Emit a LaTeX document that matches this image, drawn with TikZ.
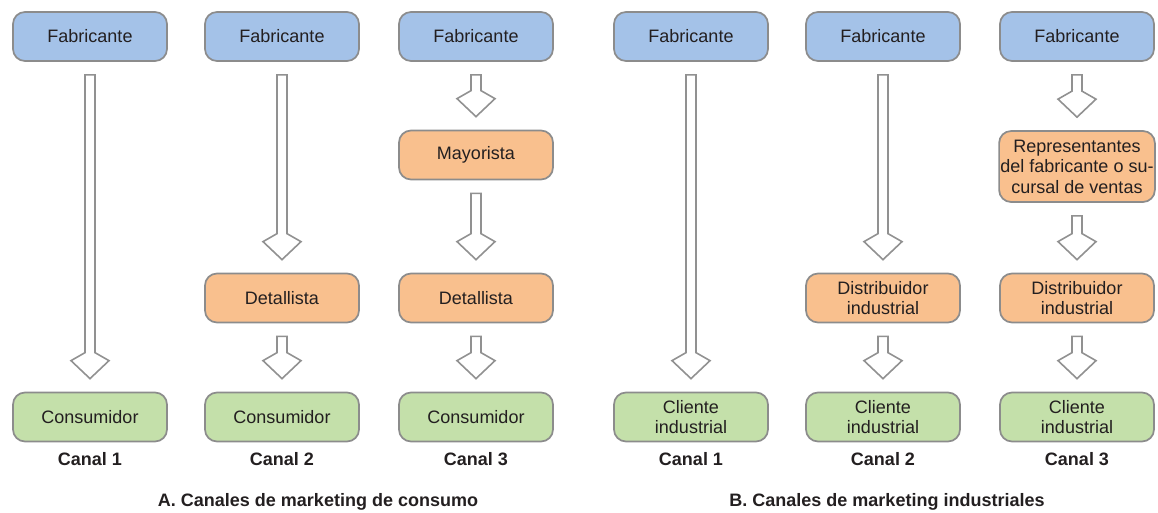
\documentclass[tikz,border=0pt]{standalone}
\usepackage{fontspec}
\setmainfont{Liberation Sans}
\usetikzlibrary{calc}
\definecolor{bfill}{RGB}{164,194,232}
\definecolor{ofill}{RGB}{249,192,142}
\definecolor{gfill}{RGB}{196,224,170}
\definecolor{bord}{RGB}{140,140,140}
\definecolor{txt}{RGB}{35,31,32}
\definecolor{arr}{RGB}{145,145,145}
\tikzset{
  box/.style={draw=bord, line width=1.3pt, rounded corners=9pt, minimum width=115.5pt, minimum height=36.75pt, align=center, text=txt, font=\fontsize{13.5}{15.3}\selectfont, inner sep=1pt},
  bluebox/.style={box, fill=bfill},
  orbox/.style={box, fill=ofill},
  grbox/.style={box, fill=gfill},
  canal/.style={text=txt, font=\fontsize{13.5}{15.3}\selectfont\bfseries},
  caption/.style={text=txt, font=\fontsize{13.5}{15.3}\selectfont\bfseries},
  hollow/.style={draw=arr, fill=white, line width=1.2pt, line join=miter}
}
\newcommand{\harrow}[2]{%
  \path (#1.south) ++(0,13) coordinate (s-#1);
  \path (#2.north) ++(0,-13) coordinate (e-#1);
  \draw[hollow] ($(s-#1)+(-5,0)$) -- ($(s-#1)+(5,0)$) -- ($(e-#1)+(5,-26)$) -- ($(e-#1)+(19,-18)$) -- (e-#1) -- ($(e-#1)+(-19,-18)$) -- ($(e-#1)+(-5,-26)$) -- cycle;}
\begin{document}
\begin{tikzpicture}[x=0.75pt, y=-0.75pt]
\useasboundingbox (0,0) rectangle (1158,512);
% A
\node[bluebox] (f1) at (90,36.5) {Fabricante};
\node[bluebox] (f2) at (282,36.5) {Fabricante};
\node[bluebox] (f3) at (476,36.5) {Fabricante};
\node[orbox] (m3) at (476,155) {Mayorista};
\node[orbox] (d2) at (282,298) {Detallista};
\node[orbox] (d3) at (476,298) {Detallista};
\node[grbox] (c1) at (90,417) {Consumidor};
\node[grbox] (c2) at (282,417) {Consumidor};
\node[grbox] (c3) at (476,417) {Consumidor};
% B
\node[bluebox] (f4) at (691,36.5) {Fabricante};
\node[bluebox] (f5) at (883,36.5) {Fabricante};
\node[bluebox] (f6) at (1077,36.5) {Fabricante};
\node[orbox, minimum height=53.25pt] (r6) at (1077,166.5) {Representantes\\del fabricante o su-\\cursal de ventas};
\node[orbox] (d5) at (883,298) {Distribuidor\\industrial};
\node[orbox] (d6) at (1077,298) {Distribuidor\\industrial};
\node[grbox] (c4) at (691,417) {Cliente\\industrial};
\node[grbox] (c5) at (883,417) {Cliente\\industrial};
\node[grbox] (c6) at (1077,417) {Cliente\\industrial};
% arrows
\harrow{f1}{c1}
\harrow{f2}{d2}
\harrow{d2}{c2}
\harrow{f3}{m3}
\harrow{m3}{d3}
\harrow{d3}{c3}
\harrow{f4}{c4}
\harrow{f5}{d5}
\harrow{d5}{c5}
\harrow{f6}{r6}
\harrow{r6}{d6}
\harrow{d6}{c6}
% labels
\node[canal] (k1) at (90,459) {Canal 1};
\node[canal] (k2) at (282,459) {Canal 2};
\node[canal] (k3) at (476,459) {Canal 3};
\node[canal] (k4) at (691,459) {Canal 1};
\node[canal] (k5) at (883,459) {Canal 2};
\node[canal] (k6) at (1077,459) {Canal 3};
\node[caption] (ca) at (318,502) {A. Canales de marketing de consumo};
\node[caption] (cb) at (887,502) {B. Canales de marketing industriales};
\end{tikzpicture}
\end{document}
